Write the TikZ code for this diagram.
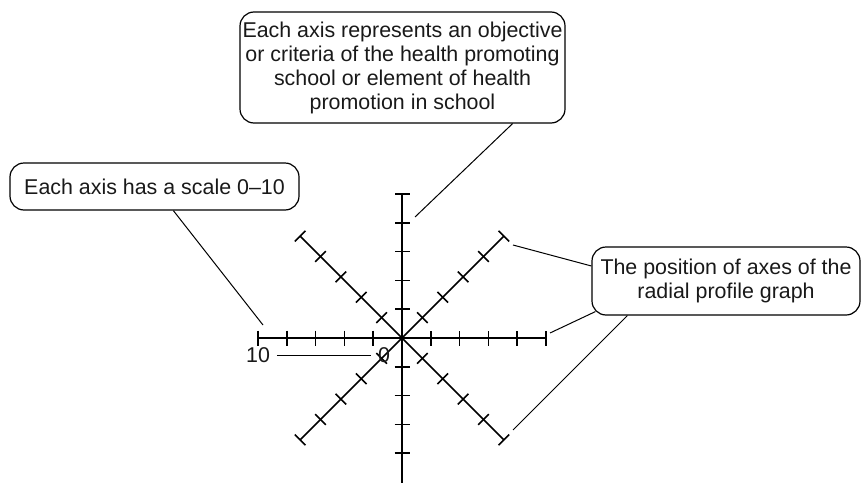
\documentclass[tikz,border=0pt]{standalone}
\usepackage{fontspec}
\setmainfont{Liberation Sans}
\usetikzlibrary{calc}

\begin{document}
\begin{tikzpicture}[
  x=0.5pt, y=-0.5pt,
  callout/.style={draw, line width=0.6pt, rounded corners=7pt, align=center,
                  inner sep=0pt},
  axisline/.style={line width=0.8pt},
  leader/.style={line width=0.5pt},
  every node/.style={font=\fontsize{10.7}{12}\selectfont, text=black!90}
]
  \useasboundingbox (0,0) rectangle (861,482);

  % Radial axes with ticks (the downward one runs off the page)
  \coordinate (origin) at (402,338);
  \foreach \a/\n/\len in {0/5/144,45/5/144,90/4/150,135/5/144,180/5/144,225/5/144,270/5/144,315/5/144} {
    \draw[axisline] (origin) -- ($(origin)+(\a:\len)$);
    \foreach \k in {1,...,\n}
      \draw[axisline] ($(origin)+(\a:\k*28.8)+(\a+90:7.5)$) -- ($(origin)+(\a:\k*28.8)+(\a-90:7.5)$);
  }

  % Scale labels
  \node (maxlabel) at (258,355) {10};
  \node (zerolabel) at (384,355) {0};
  \draw[leader] (maxlabel) -- (zerolabel);

  % Callouts
  \node[callout, minimum width=144.5pt, minimum height=23.5pt] (scalebox) at (154.5,186.5)
    {Each axis has a scale 0--10};
  \node[callout, minimum width=162.5pt, minimum height=55.5pt] (objbox) at (402.5,67.5)
    {Each axis represents an objective\\or criteria of the health promoting\\school or element of health\\promotion in school};
  \node[callout, minimum width=134pt, minimum height=34pt] (posbox) at (726,281)
    {The position of axes of the\\radial profile graph};

  % Leader ends
  \coordinate (scaletip) at (263,325);
  \coordinate (objtip) at (415,217);
  \coordinate (netip) at (513,245);
  \coordinate (etip) at (550,333);
  \coordinate (setip) at (513,430);

  \draw[leader] (scalebox) -- (scaletip);
  \draw[leader] ($(objbox.south east)+(-53,0)$) -- (objtip);
  \draw[leader] ($(posbox.west)+(0,-15)$) -- (netip);
  \draw[leader] ($(posbox.south west)+(4,-4)$) -- (etip);
  \draw[leader] ($(posbox.south west)+(36,0)$) -- (setip);
\end{tikzpicture}
\end{document}
